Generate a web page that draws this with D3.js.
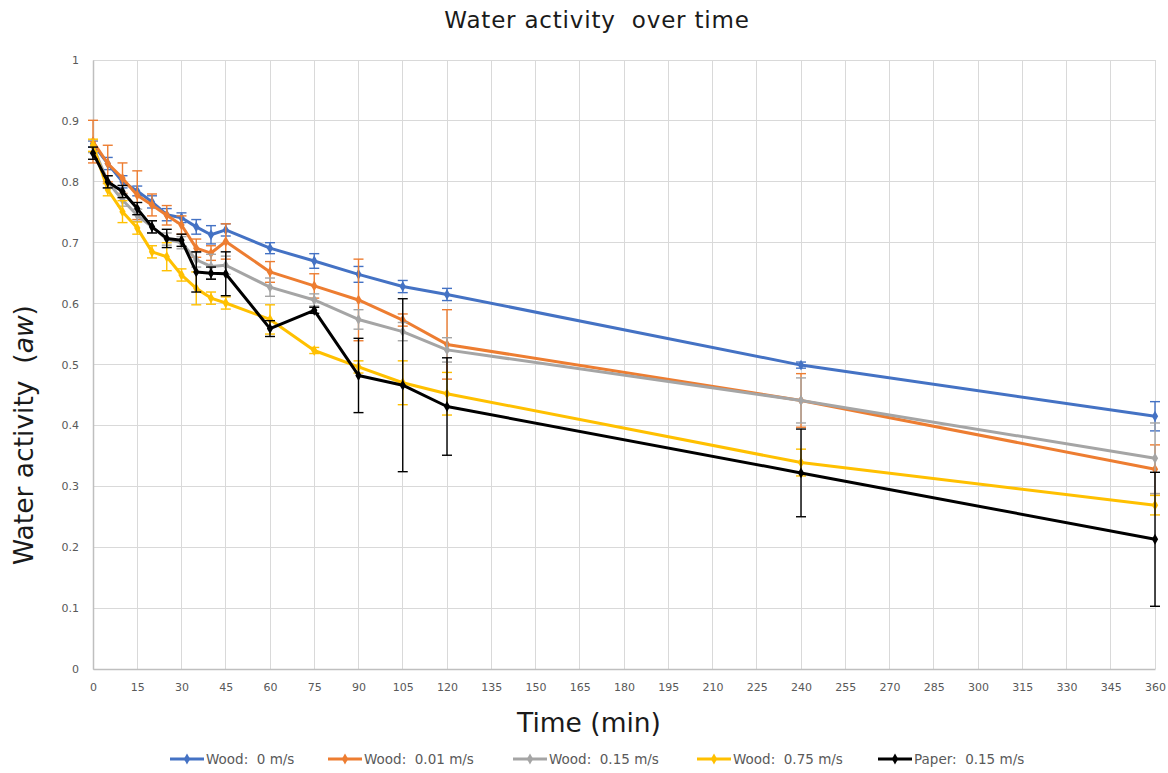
<!DOCTYPE html>
<html>
<head>
<meta charset="utf-8">
<script src="https://cdn.jsdelivr.net/npm/d3@7"></script>
<style>
  html, body { margin: 0; padding: 0; background: #fff; }
  svg { display: block; font-family: "DejaVu Sans", Verdana, sans-serif; }
  text { white-space: pre; }
</style>
</head>
<body>
<svg id="chart" width="1168" height="773"></svg>
<script>
// ---------------- data ----------------
const times = [0, 5, 10, 15, 20, 25, 30, 35, 40, 45, 60, 75, 90, 105, 120, 240, 360];

const seriesNames = ["Wood:  0 m/s", "Wood:  0.01 m/s", "Wood:  0.15 m/s", "Wood:  0.75 m/s", "Paper:  0.15 m/s"];

const wood0    = [0.862, 0.830, 0.800, 0.785, 0.767, 0.746, 0.741, 0.726, 0.713, 0.721, 0.691, 0.670, 0.648, 0.628, 0.615, 0.499, 0.415];
const wood001  = [0.866, 0.830, 0.806, 0.778, 0.762, 0.745, 0.729, 0.691, 0.683, 0.702, 0.652, 0.629, 0.606, 0.573, 0.533, 0.441, 0.328];
const wood015  = [0.858, 0.800, 0.770, 0.745, 0.726, 0.706, 0.700, 0.672, 0.661, 0.663, 0.627, 0.606, 0.574, 0.554, 0.524, 0.441, 0.346];
const wood075  = [0.860, 0.787, 0.751, 0.724, 0.685, 0.677, 0.647, 0.625, 0.609, 0.601, 0.574, 0.523, 0.496, 0.470, 0.452, 0.339, 0.269];
const paper015 = [0.847, 0.800, 0.784, 0.756, 0.726, 0.707, 0.704, 0.652, 0.650, 0.649, 0.559, 0.589, 0.482, 0.466, 0.431, 0.322, 0.213];

const errWood0    = [0.005, 0.010, 0.010, 0.008, 0.010, 0.010, 0.008, 0.012, 0.015, 0.010, 0.009, 0.012, 0.013, 0.010, 0.010, 0.005, 0.024];
const errWood001  = [0.035, 0.030, 0.025, 0.040, 0.018, 0.016, 0.015, 0.015, 0.012, 0.029, 0.017, 0.020, 0.067, 0.010, 0.057, 0.044, 0.040];
const errWood015  = [0.010, 0.010, 0.010, 0.010, 0.010, 0.010, 0.010, 0.012, 0.020, 0.015, 0.015, 0.010, 0.016, 0.015, 0.020, 0.037, 0.058];
const errWood075  = [0.010, 0.010, 0.018, 0.010, 0.010, 0.023, 0.010, 0.027, 0.010, 0.010, 0.024, 0.005, 0.010, 0.036, 0.035, 0.022, 0.016];
const errPaper015 = [0.010, 0.010, 0.010, 0.010, 0.010, 0.015, 0.010, 0.033, 0.010, 0.036, 0.013, 0.005, 0.061, 0.142, 0.080, 0.072, 0.110];

const xTicks = d3.range(0, 361, 15);
const yTicks = [0, 0.1, 0.2, 0.3, 0.4, 0.5, 0.6, 0.7, 0.8, 0.9, 1];

const colors = ["#4472C4", "#ED7D31", "#A5A5A5", "#FFC000", "#000000"];

const seriesValues = [wood0, wood001, wood015, wood075, paper015];
const seriesErrors = [errWood0, errWood001, errWood015, errWood075, errPaper015];

// ---------------- layout ----------------
const svg = d3.select("#chart");
const plot = { left: 93, right: 1155, top: 60, bottom: 669 };

svg.append("rect").attr("width", 1168).attr("height", 773).attr("fill", "#fff");

const x = d3.scaleLinear().domain([0, 360]).range([plot.left, plot.right]);
const y = d3.scaleLinear().domain([0, 1]).range([plot.bottom, plot.top]);

const gridColor = "#d9d9d9";

// gridlines
svg.append("g").selectAll("line").data(yTicks).join("line")
  .attr("x1", plot.left).attr("x2", plot.right)
  .attr("y1", d => y(d)).attr("y2", d => y(d))
  .attr("stroke", gridColor).attr("stroke-width", 1).attr("shape-rendering", "crispEdges");
svg.append("g").selectAll("line").data(xTicks).join("line")
  .attr("x1", d => x(d)).attr("x2", d => x(d))
  .attr("y1", plot.top).attr("y2", plot.bottom)
  .attr("stroke", gridColor).attr("stroke-width", 1).attr("shape-rendering", "crispEdges");

// axes
const xAxis = d3.axisBottom(x).tickValues(xTicks).tickSize(0).tickPadding(14).tickFormat(d3.format("d"));
const yAxis = d3.axisLeft(y).tickValues(yTicks).tickSize(0).tickPadding(14).tickFormat(d => d3.format("")(+d.toFixed(1)));

const gx = svg.append("g").attr("transform", `translate(0,${plot.bottom})`).call(xAxis);
const gy = svg.append("g").attr("transform", `translate(${plot.left},0)`).call(yAxis);
[gx, gy].forEach(g => {
  g.select(".domain").attr("stroke", "#bfbfbf").attr("stroke-width", 1.5);
  g.selectAll("text").attr("fill", "#595959").style("font-size", "11px")
    .style("font-family", "\"DejaVu Sans\", Verdana, sans-serif");
});

// series
const line = d3.line().x((d, i) => x(times[i])).y(d => y(d));
const diamond = d3.symbol().type(d3.symbolDiamond).size(34);

seriesValues.forEach((vals, s) => {
  const g = svg.append("g");
  const errs = seriesErrors[s];
  // error bars
  const eb = g.append("g").attr("stroke", colors[s]).attr("stroke-width", 1.4);
  times.forEach((t, i) => {
    const cx = x(t);
    const y1 = y(vals[i] + errs[i]);
    const y2 = y(vals[i] - errs[i]);
    eb.append("line").attr("x1", cx).attr("x2", cx).attr("y1", y1).attr("y2", y2);
    eb.append("line").attr("x1", cx - 5).attr("x2", cx + 5).attr("y1", y1).attr("y2", y1);
    eb.append("line").attr("x1", cx - 5).attr("x2", cx + 5).attr("y1", y2).attr("y2", y2);
  });
  g.append("path").datum(vals).attr("d", line)
    .attr("fill", "none").attr("stroke", colors[s]).attr("stroke-width", 3)
    .attr("stroke-linejoin", "round");
  g.selectAll("path.mk").data(vals).join("path").attr("class", "mk")
    .attr("transform", (d, i) => `translate(${x(times[i])},${y(d)})`)
    .attr("d", diamond).attr("fill", colors[s]);
});

// title
svg.append("text").attr("x", 597).attr("y", 28).attr("text-anchor", "middle")
  .style("font-size", "23px").style("letter-spacing", "0.8px")
  .attr("fill", "#1a1a1a").text("Water activity  over time");

// axis titles
svg.append("text").attr("x", 589).attr("y", 732).attr("text-anchor", "middle")
  .style("font-size", "26.5px").attr("fill", "#1a1a1a").text("Time (min)");

const yt = svg.append("text").attr("transform", "translate(33,435) rotate(-90)")
  .attr("text-anchor", "middle").style("font-size", "26.5px").attr("fill", "#1a1a1a");
yt.append("tspan").text("Water activity  (");
yt.append("tspan").style("font-style", "italic").text("aw");
yt.append("tspan").text(")");

// legend
const legendX = [170, 328, 513, 697, 878];
const lg = svg.append("g").attr("transform", "translate(0,759)");
seriesNames.forEach((name, s) => {
  const it = lg.append("g").attr("transform", `translate(${legendX[s]},0)`);
  it.append("line").attr("x1", 0).attr("x2", 34).attr("y1", 0).attr("y2", 0)
    .attr("stroke", colors[s]).attr("stroke-width", 3);
  it.append("path").attr("transform", "translate(17,0)").attr("d", diamond).attr("fill", colors[s]);
  it.append("text").attr("x", 36).attr("y", 5).style("font-size", "13.5px")
    .attr("fill", "#595959").text(name);
});
</script>
</body>
</html>
